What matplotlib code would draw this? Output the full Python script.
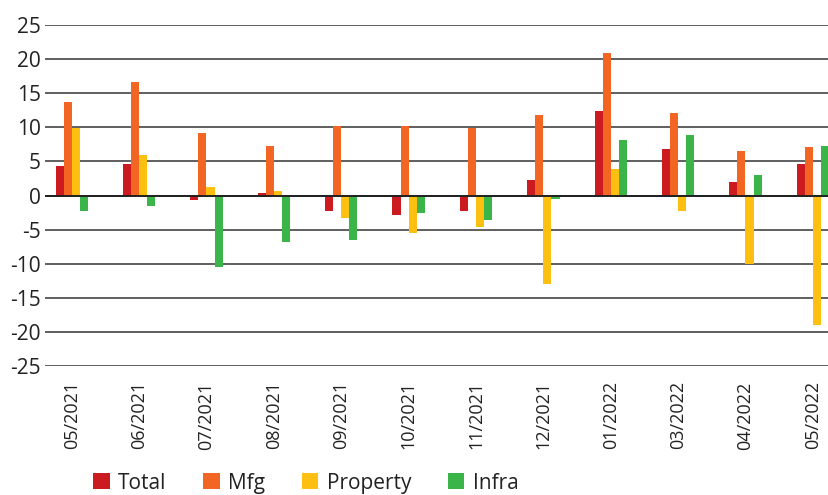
import matplotlib.pyplot as plt
import numpy as np

months = ["05/2021", "06/2021", "07/2021", "08/2021", "09/2021", "10/2021",
          "11/2021", "12/2021", "01/2022", "03/2022", "04/2022", "05/2022"]
total = [4.3, 4.6, -0.6, 0.3, -2.2, -2.8, -2.25, 2.25, 12.4, 6.8, 1.95, 4.6]
mfg = [13.7, 16.6, 9.1, 7.2, 10.2, 10.2, 9.9, 11.8, 20.9, 12.1, 6.5, 7.1]
prop = [9.9, 5.9, 1.2, 0.6, -3.3, -5.5, -4.6, -13.0, 3.9, -2.25, -10.0, -19.0]
infra = [-2.25, -1.5, -10.5, -6.8, -6.5, -2.5, -3.6, -0.5, 8.1, 8.85, 3.0, 7.2]
series = ["Total", "Mfg", "Property", "Infra"]
colors = ["#cc1a21", "#f26522", "#fdc010", "#3bb54a"]

plt.rcParams['font.family'] = ['Open Sans', 'DejaVu Sans']
plt.rcParams['axes.unicode_minus'] = False

fig = plt.figure(figsize=(8.29, 4.95), dpi=100)
ax = fig.add_axes([0.054, 0.2606, 0.946, 0.6889])

x = np.arange(len(months))
w = 0.12
for i, (vals, name) in enumerate(zip([total, mfg, prop, infra], series)):
    ax.bar(x + (i - 1.5) * w, vals, w, color=colors[i], label=name, zorder=3)

ax.set_ylim(-25, 25)
ax.set_yticks(range(-25, 30, 5))
ax.set_xlim(-0.4, 11.24)
ax.set_xticks(x)
ax.set_xticklabels(months, rotation=90, fontsize=13, color='#222222')
ax.tick_params(axis='y', labelsize=15, length=0, pad=3, labelcolor='#222222')
ax.tick_params(axis='x', length=0, pad=11)
ax.grid(axis='y', color='#444444', linewidth=1.2, zorder=0)
ax.axhline(0, color='#222222', linewidth=1.4, zorder=4)
for s in ax.spines.values():
    s.set_visible(False)

fig.legend(loc='lower left', bbox_to_anchor=(0.09, -0.035), ncol=4, frameon=False,
           fontsize=15, handlelength=0.8, handleheight=0.8, handletextpad=0.4,
           columnspacing=1.75, labelcolor='#222222')

plt.savefig("out.png")
